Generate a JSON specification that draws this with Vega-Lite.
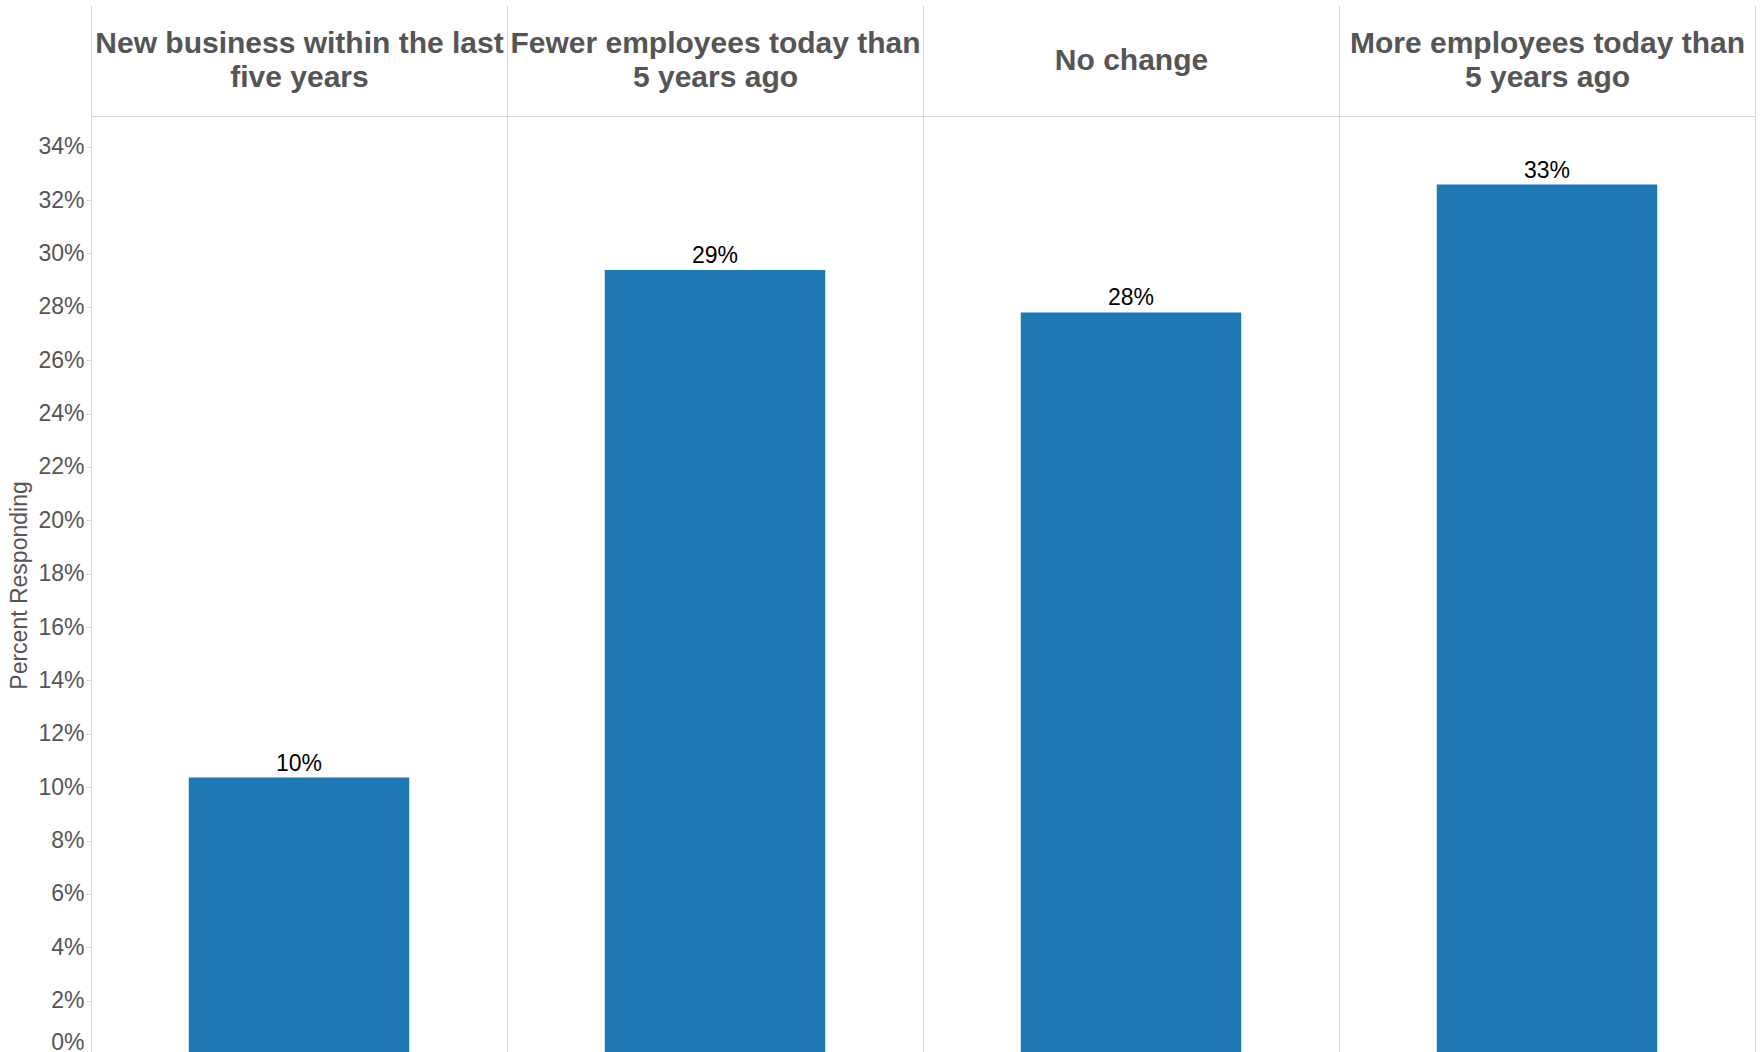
{
  "$schema": "https://vega.github.io/schema/vega-lite/v6.json",
  "width": 1664,
  "height": 938,
  "autosize": "none",
  "padding": {"left": 91, "top": 116, "right": 8, "bottom": 0},
  "background": "white",
  "config": {
    "font": "Liberation Sans",
    "view": {"stroke": "#d9d9d9", "strokeWidth": 1}
  },
  "data": {
    "values": [
      {"category": "New business within the last|five years", "percent": 0.1036},
      {"category": "Fewer employees today than|5 years ago", "percent": 0.2938},
      {"category": "No change", "percent": 0.2779},
      {"category": "More employees today than|5 years ago", "percent": 0.3258}
    ]
  },
  "encoding": {
    "x": {
      "field": "category",
      "type": "nominal",
      "sort": null,
      "scale": {"paddingInner": 0, "paddingOuter": 0},
      "axis": {
        "orient": "top",
        "title": null,
        "domain": false,
        "ticks": true,
        "tickBand": "extent",
        "tickSize": 111,
        "tickColor": "#d9d9d9",
        "tickWidth": 1,
        "grid": true,
        "gridColor": "#d9d9d9",
        "gridWidth": 1,
        "labelAngle": 0,
        "labelAlign": "center",
        "labelBaseline": "middle",
        "labelPadding": {"condition": {"test": "indexof(datum.label, '|') >= 0", "value": -38}, "value": -55},
        "labelFontSize": 30,
        "labelFontWeight": "bold",
        "labelColor": "#555555",
        "labelLimit": 0,
        "labelLineHeight": 34,
        "labelExpr": "split(datum.label, '|')"
      }
    },
    "y": {
      "field": "percent",
      "type": "quantitative",
      "scale": {"domain": [0, 0.3515], "nice": false, "zero": true},
      "axis": {
        "values": [0, 0.02, 0.04, 0.06, 0.08, 0.1, 0.12, 0.14, 0.16, 0.18, 0.2, 0.22, 0.24, 0.26, 0.28, 0.3, 0.32, 0.34],
        "format": ".0%",
        "grid": false,
        "domainColor": "#d9d9d9",
        "tickColor": "#d9d9d9",
        "tickSize": 5,
        "labelPadding": 2,
        "labelFontSize": 23,
        "labelColor": "#555555",
        "labelFlush": true,
        "labelOverlap": false,
        "title": "Percent Responding",
        "titleFontSize": 23,
        "titleFontWeight": "normal",
        "titleColor": "#555555",
        "titlePadding": 6
      }
    }
  },
  "layer": [
    {
      "mark": {"type": "bar", "color": "#1f77b4", "width": {"band": 0.53}}
    },
    {
      "mark": {"type": "text", "baseline": "alphabetic", "dy": -7, "fontSize": 23, "color": "#000000"},
      "encoding": {"text": {"field": "percent", "type": "quantitative", "format": ".0%"}}
    }
  ]
}
